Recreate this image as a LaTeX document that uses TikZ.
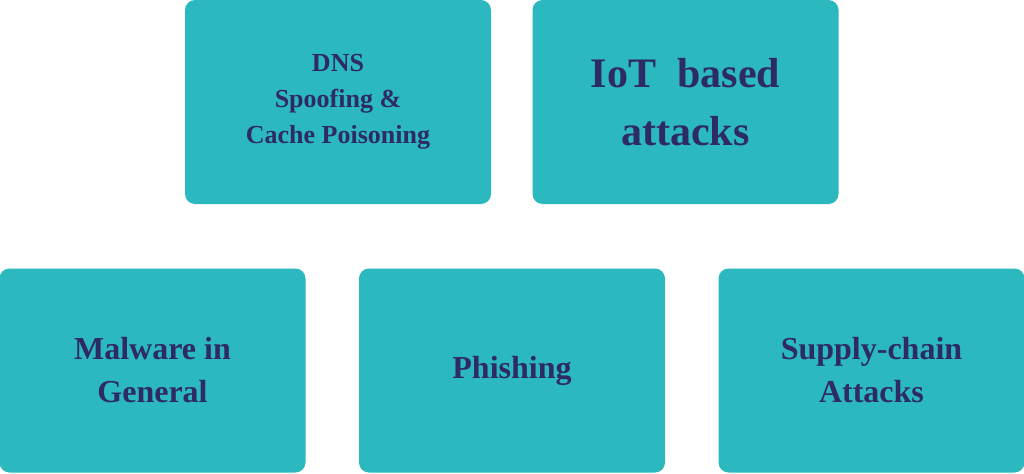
\documentclass[tikz,border=0pt]{standalone}
\usepackage{fontspec}
\setmainfont{Liberation Serif}
\definecolor{tealbox}{HTML}{2BB8BE}
\definecolor{navytext}{HTML}{2E2A66}

\begin{document}
\begin{tikzpicture}[x=1pt,y=1pt]
		\tikzset{card/.style={shape = rectangle, fill = tealbox, rounded corners = 5pt,
				minimum width = 153pt, minimum height = 102pt, inner sep = 0pt,
				text = navytext, font = \bfseries, align = center}}
					\useasboundingbox (0,0) rectangle (512,236.5);
					%top row
					\node[card, font = \bfseries\fontsize{13}{18}\selectfont] (dns) at (169, 185.5) {DNS\\Spoofing \&\\Cache Poisoning};
					\node[card, font = \bfseries\fontsize{21}{29}\selectfont] (iot) at (342.75, 185.5) {IoT\ \ based\\attacks};
					%bottom row
					\node[card, font = \bfseries\fontsize{16}{21.5}\selectfont] (malware) at (76.25, 51.25) {Malware in\\General};
					\node[card, font = \bfseries\fontsize{16}{21.5}\selectfont] (phishing) at (256, 51.25) {Phishing};
					\node[card, font = \bfseries\fontsize{16}{21.5}\selectfont] (supply) at (435.75, 51.25) {Supply-chain\\Attacks};
\end{tikzpicture}
\end{document}
